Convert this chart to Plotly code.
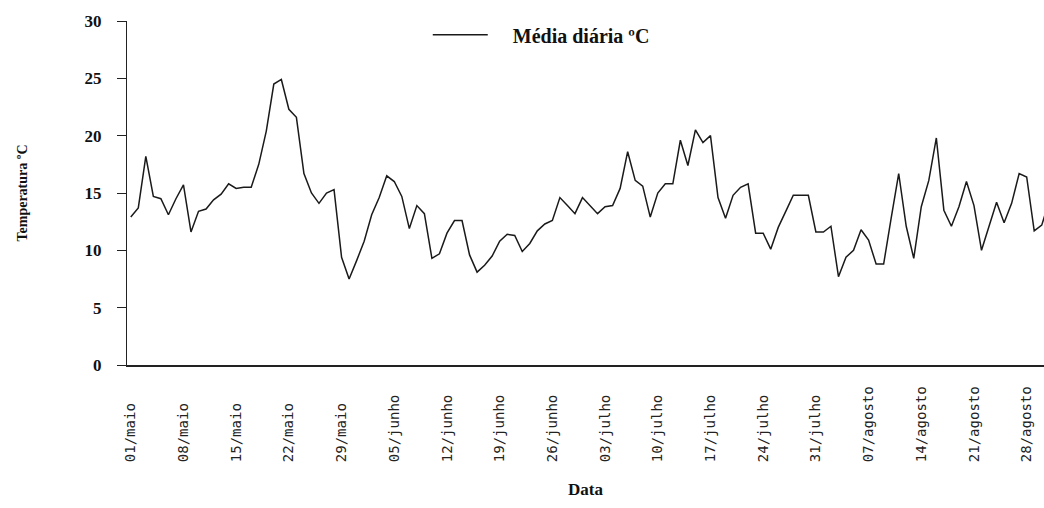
import plotly.graph_objects as go

# Daily mean air temperature, 1 May to 31 August
months = ["maio", "junho", "julho", "agosto"]
month_days = [31, 30, 31, 31]

media_diaria = [
    12.9, 13.7, 18.2, 14.7, 14.5, 13.1, 14.5, 15.7, 11.6, 13.4,
    13.6, 14.4, 14.9, 15.8, 15.4, 15.5, 15.5, 17.5, 20.4, 24.5,
    24.9, 22.3, 21.6, 16.7, 15.0, 14.1, 15.0, 15.3, 9.4, 7.5,
    9.1, 10.8, 13.1, 14.6, 16.5, 16.0, 14.7, 11.9, 13.9, 13.2,
    9.3, 9.7, 11.5, 12.6, 12.6, 9.6, 8.1, 8.7, 9.5, 10.8,
    11.4, 11.3, 9.9, 10.6, 11.7, 12.3, 12.6, 14.6, 13.9, 13.2,
    14.6, 13.9, 13.2, 13.8, 13.9, 15.4, 18.6, 16.1, 15.6, 12.9,
    15.0, 15.8, 15.8, 19.6, 17.4, 20.5, 19.4, 20.0, 14.6, 12.8,
    14.8, 15.5, 15.8, 11.5, 11.5, 10.1, 12.0, 13.4, 14.8, 14.8,
    14.8, 11.6, 11.6, 12.1, 7.7, 9.4, 10.0, 11.8, 10.9, 8.8,
    8.8, 12.8, 16.7, 12.1, 9.3, 13.8, 16.1, 19.8, 13.5, 12.1,
    13.8, 16.0, 13.9, 10.0, 12.1, 14.2, 12.4, 14.1, 16.7, 16.4,
    11.7, 12.2, 14.3,
]

# One category per day, labelled "dd/mês"
datas = [f"{d:02d}/{m}" for m, n in zip(months, month_days) for d in range(1, n + 1)]

# Weekly tick labels
tick_step = 7
tick_vals = datas[::tick_step]
label_len = max(len(t) for t in tick_vals)
# monospace labels padded so they all start at the same baseline
tick_text = [t + "\u00a0" * (label_len - len(t)) for t in tick_vals]

y_ticks = [0, 5, 10, 15, 20, 25, 30]

serif = "Liberation Serif, Times New Roman, serif"
legend_pad = "\u00a0" * 4  # extra room between legend line and its text

fig = go.Figure()
fig.add_trace(go.Scatter(
    x=datas,
    y=media_diaria,
    mode="lines",
    name=legend_pad + "Média diária ºC",
    line=dict(color="#1a1a1a", width=1.5),
))

fig.update_layout(
    width=1044,
    height=508,
    margin=dict(l=127, r=0, t=21, b=143),
    paper_bgcolor="white",
    plot_bgcolor="white",
    showlegend=True,
    legend=dict(
        orientation="h",
        x=0.328, xanchor="left",
        y=0.96, yanchor="middle",
        font=dict(family=serif, size=20, color="#111111", weight="bold"),
        itemwidth=55,
        bgcolor="rgba(0,0,0,0)",
    ),
    xaxis=dict(
        type="category",
        categoryorder="array",
        categoryarray=datas,
        range=[-0.5, 121.3],
        tickmode="array",
        tickvals=tick_vals,
        ticktext=tick_text,
        tickangle=-90,
        ticks="",
        ticklabelstandoff=14,
        tickfont=dict(family="DejaVu Sans Mono, monospace", size=14, color="#222222"),
        showgrid=False,
        showline=True,
        linecolor="#222222",
        linewidth=1.5,
        zeroline=False,
    ),
    yaxis=dict(
        range=[0, 30],
        tickmode="array",
        tickvals=y_ticks,
        ticks="outside",
        ticklen=9,
        tickcolor="#222222",
        tickwidth=1,
        ticklabelstandoff=12,
        tickfont=dict(family=serif, size=17, color="#111111", weight="bold"),
        showgrid=False,
        showline=True,
        linecolor="#222222",
        linewidth=1,
        zeroline=False,
    ),
    annotations=[
        dict(
            text="Temperatura ºC",
            xref="paper", yref="paper",
            x=-0.115, y=0.5,
            xanchor="center", yanchor="middle",
            textangle=-90,
            showarrow=False,
            font=dict(family=serif, size=14, color="#111111", weight="bold"),
        ),
        dict(
            text="Data",
            xref="paper", yref="paper",
            x=0.5, y=-0.362,
            xanchor="center", yanchor="middle",
            showarrow=False,
            font=dict(family=serif, size=17, color="#111111", weight="bold"),
        ),
    ],
)

fig.write_html("out.html")
